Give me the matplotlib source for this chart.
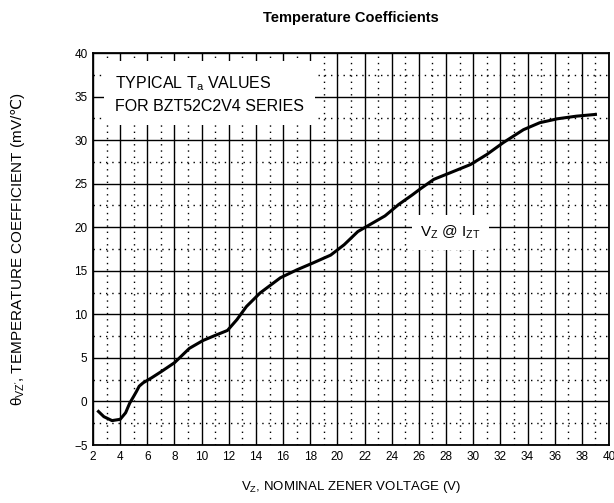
import matplotlib
matplotlib.use('Agg')
import matplotlib.pyplot as plt
from matplotlib.ticker import MultipleLocator

plt.rcParams['font.family'] = ['Liberation Sans', 'DejaVu Sans']
plt.rcParams['mathtext.fontset'] = 'custom'
plt.rcParams['mathtext.rm'] = 'DejaVu Sans'

# nominal zener voltage (V) and temperature coefficient (mV/C)
vz = [2.4, 2.8, 3.4, 4.0, 4.4, 4.7, 5.0, 5.2, 5.4, 5.7, 6.3, 7.0, 8.0, 9.1, 10.1,
      11.1, 11.9, 12.6, 13.3, 14.3, 15.8, 17.0, 18.2, 19.5, 20.5, 21.5, 22.5, 23.5,
      24.5, 25.5, 26.1, 27.1, 28.3, 29.8, 31.0, 32.2, 33.7, 34.9, 36.2, 37.6, 39.0]
theta = [-1.15, -1.75, -2.2, -2.05, -1.3, -0.2, 0.6, 1.15, 1.75, 2.15, 2.7, 3.4, 4.45,
         6.1, 7.0, 7.65, 8.15, 9.4, 10.9, 12.45, 14.2, 15.1, 15.9, 16.8, 18.0, 19.5,
         20.4, 21.3, 22.6, 23.7, 24.4, 25.5, 26.25, 27.2, 28.35, 29.7, 31.2, 32.0,
         32.45, 32.75, 32.95]

fig = plt.figure(figsize=(6.14, 5.03), dpi=100)
ax = fig.add_axes([0.1515, 0.1153, 0.8404, 0.7793])

ax.plot(vz, theta, color='black', lw=2.2, zorder=5, solid_joinstyle='round')

ax.set_xlim(2, 40)
ax.set_ylim(-5, 40)
ax.xaxis.set_major_locator(MultipleLocator(2))
ax.xaxis.set_minor_locator(MultipleLocator(1))
ax.yaxis.set_major_locator(MultipleLocator(5))
ax.yaxis.set_minor_locator(MultipleLocator(2.5))
ax.grid(which='major', color='black', lw=1.0)
ax.grid(which='minor', color='black', lw=1.0, ls=(0, (1, 3.5)))
ax.set_axisbelow(True)
ax.tick_params(which='both', length=0, labelsize=8.5, pad=4)
for s in ax.spines.values():
    s.set_linewidth(1.3)

ax.text(3.6, 35.3, 'TYPICAL T$_\\mathregular{a}$ VALUES\nFOR BZT52C2V4 SERIES',
        fontsize=11.5, va='center', ha='left', linespacing=1.5, zorder=4,
        bbox=dict(facecolor='white', edgecolor='none', pad=8))
ax.text(28.3, 19.4, 'V$_\\mathregular{Z}$ @ I$_\\mathregular{ZT}$', fontsize=11,
        ha='center', va='center', zorder=4,
        bbox=dict(facecolor='white', edgecolor='none', pad=6))

ax.set_title('Temperature Coefficients', fontsize=10.5, fontweight='bold', pad=22)
ax.set_xlabel("V$_\\mathregular{Z}$, NOMINAL ZENER VOLTAGE (V)", fontsize=9.5, labelpad=12)
ax.set_ylabel("θ$_\\mathregular{VZ'}$, TEMPERATURE COEFFICIENT (mV/$\\mathrm{℃}$)",
              fontsize=11, labelpad=34)

fig.savefig('out.png', dpi=100)
